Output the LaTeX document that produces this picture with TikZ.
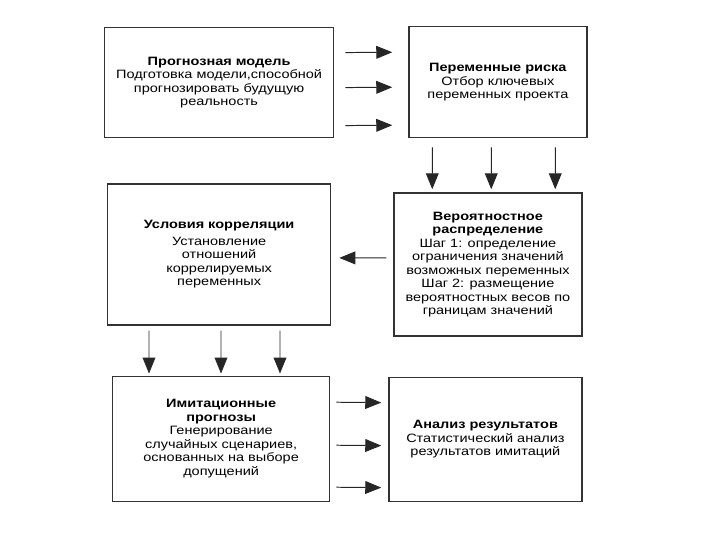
\documentclass[tikz,border=0pt]{standalone}
\usepackage{fontspec}
\setmainfont[FakeStretch=1.2]{Liberation Sans}
\usetikzlibrary{arrows.meta, positioning}

\begin{document}
\begin{tikzpicture}[
    block/.style={rectangle, draw=black!80, line width=0.9pt, fill=white, align=center, inner sep=2pt, font=\fontsize{8.6}{9.6}\selectfont},
    arrow/.style={-{Triangle[length=4mm, width=3.2mm]}, line width=0.7pt, draw=black!85}
]

\useasboundingbox (0,0) rectangle (18,-13.5);

% Top row
\node[block, minimum width=5.725cm, minimum height=2.75cm, anchor=north west] (model) at (2.6,-0.675)
    {\textbf{Прогнозная модель}\\Подготовка модели,способной\\прогнозировать будущую\\реальность};
\node[block, minimum width=4.45cm, minimum height=2.775cm, right=1.85cm of model.north east, anchor=north west, yshift=0.025cm] (risk)
    {\textbf{Переменные риска}\\Отбор ключевых\\переменных проекта};

% Middle row
\node[block, minimum width=4.7cm, minimum height=3.575cm, below=1.35cm of risk.south east, anchor=north east, xshift=-0.125cm] (dist)
    {\textbf{Вероятностное}\\\textbf{распределение}\\Шаг 1: определение\\ограничения значений\\возможных переменных\\Шаг 2: размещение\\вероятностных весов по\\границам значений};
\node[block, minimum width=5.575cm, minimum height=3.525cm, below=1.125cm of model.south west, anchor=north west, xshift=0.075cm] (corr)
    {\textbf{Условия корреляции}\\[2pt]Установление\\отношений\\коррелируемых\\переменных};

% Bottom row
\node[block, minimum width=5.425cm, minimum height=3.125cm, below=1.25cm of corr.south west, anchor=north west, xshift=0.125cm] (sim)
    {\textbf{Имитационные}\\\textbf{прогнозы}\\Генерирование\\случайных сценариев,\\основанных на выборе\\допущений};
\node[block, minimum width=4.825cm, minimum height=3.1cm, below=1cm of dist.south east, anchor=north east] (res)
    {\textbf{Анализ результатов}\\Статистический анализ\\результатов имитаций};

% Arrows
\foreach \dy in {0.75,-0.125,-1.075}
    \draw[arrow, shorten <=0.275cm, shorten >=0.4cm] ([yshift=\dy cm]model.east) -- ([yshift=\dy cm]risk.west);

\foreach \a/\b in {0.6/0.975, 2.075/2.45, 3.675/4.05}
    \draw[arrow, shorten <=0.225cm, shorten >=0.075cm] ([xshift=\a cm]risk.south west) -- ([xshift=\b cm]dist.north west);

\draw[arrow, shorten <=0.175cm, shorten >=0.2cm] ([yshift=0.1625cm]dist.west) -- ([yshift=-0.0875cm]corr.east);

\foreach \a/\b in {1.05/0.925, 2.85/2.725, 4.325/4.2}
    \draw[arrow, shorten <=0.125cm, shorten >=0.05cm] ([xshift=\a cm]corr.south west) -- ([xshift=\b cm]sim.north west);

\foreach \dy in {0.9125,-0.1625,-1.2125}
    \draw[arrow, shorten <=0.15cm, shorten >=0.175cm] ([yshift=\dy cm]sim.east) -- ([yshift=\dy cm]res.west);

\end{tikzpicture}
\end{document}
